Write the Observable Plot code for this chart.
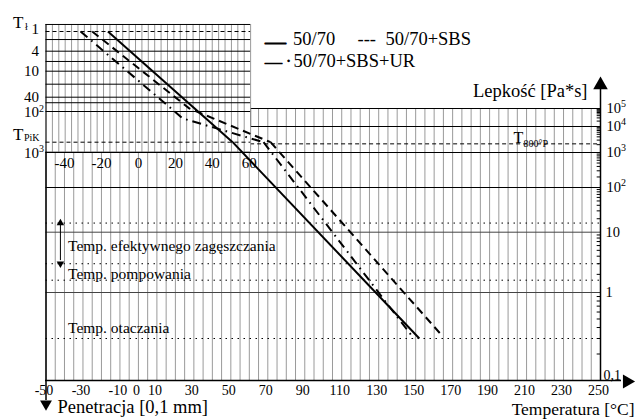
<!DOCTYPE html>
<html><head><meta charset="utf-8">
<script src="https://cdn.jsdelivr.net/npm/d3@7"></script>
<script src="https://cdn.jsdelivr.net/npm/@observablehq/plot@0.6"></script>
<style>
body{margin:0;background:#fff;}
#wrap{position:relative;width:639px;height:419px;overflow:hidden;background:#fff;}
#wrap svg{position:absolute;left:0;top:0;}
</style></head><body><div id="wrap"></div>
<script>
// ---------------- data ----------------
// shared temperature axis (°C)
const tempTicksBottom = [-50,-30,-10,0,10,30,50,70,90,110,130,150,170,190,210,230,250];
const tempTicksTop = [-40,-20,0,20,40,60];
// penetration axis [0,1 mm] (upper-left chart, log, downward)
const penKnots = [1, 4, 10, 40, 100, 800, 1000];
const penLabelValues = [4, 10, 40];
const penLabelTexts = ["4", "10", "40"];
const penTopValue = 1;
const penTopText = "1";
const penPowerValues = [100, 1000];
const penPowerExps = ["2", "3"];
const penGridSolid = [0.61, 1.76, 4, 6.4, 10, 20, 40, 57, 100, 1000];
const penT1 = 1;
const penPiK = 800;
// viscosity axis [Pa*s]
const viscKnots = [0.1, 1, 10, 100, 1e3, 1e4, 1e5];
const viscPowerValues = [1e5, 1e4, 1e3, 1e2];
const viscPowerExps = ["5", "4", "3", "2"];
const viscPlainValues = [10, 1];
const viscPlainTexts = ["10", "1"];
const viscMinValue = 0.1;
const viscMinText = "0,1";
const viscGridUpper = [1e5, 1e4];
const viscGridFull = [1e3, 1e2, 10, 1];
const viscT800P = 2150;
const viscDotted = [16, 3, 1.6, 0.3];
const viscCompactRange = [16, 3];
// series
const seriesNames = ["50/70", "50/70+SBS", "50/70+SBS+UR"];
// 50/70 (solid)
const penTemp_5070 = [-16.5, 51];
const penVal_5070 = [1, 800];
const visTemp_5070 = [51, 152];
const visVal_5070 = [2500, 0.3];
// 50/70+SBS (dashed)
const penTemp_SBS = [-25, 27.5, 71.5];
const penVal_SBS = [1, 82, 800];
const visTemp_SBS = [71.5, 164.5];
const visVal_SBS = [2500, 0.32];
// 50/70+SBS+UR (dash-dot)
const penTemp_UR = [-31.3, 24, 67.7];
const penVal_UR = [1, 160, 800];
const visTemp_UR = [67.7, 149];
const visVal_UR = [2500, 0.3];

// ---------------- layout / scales ----------------
const FONT = "'Liberation Serif','Times New Roman',Times,serif";
const lg = Math.log10;
const topChartRightT = 60.7;
const topGridCount = 32;
const arrowT = -42.2;
const xCfg = {domain: [-50, 250], range: [45.5, 600], axis: null};
const vCfg = {type: "linear", domain: viscKnots.map(lg), range: [380, 292, 231.7, 187, 152, 126, 108], axis: null};
const pCfg = {type: "linear", domain: penKnots.map(lg), range: [31, 50.7, 70.7, 96.7, 111, 141.7, 151.7], axis: null};

const GRID = "#9a9a9a";
const topGridT = d3.range(topGridCount + 1).map(k => -50 + k * (topChartRightT + 50) / topGridCount);
const bottomGridT = d3.range(-50, 251, 5);
const bottomGridLeft = bottomGridT.filter(t => t <= topChartRightT);
const bottomGridRight = bottomGridT.filter(t => t > topChartRightT);

const pts = (ts, vs, name) => ts.map((t, i) => ({t, v: vs[i], name}));
const dashOf = {"50/70": null, "50/70+SBS": "8,5", "50/70+SBS+UR": "9,5,1.6,5"};
const penSeries = [pts(penTemp_5070, penVal_5070, seriesNames[0]), pts(penTemp_SBS, penVal_SBS, seriesNames[1]), pts(penTemp_UR, penVal_UR, seriesNames[2])];
const visSeries = [pts(visTemp_5070, visVal_5070, seriesNames[0]), pts(visTemp_SBS, visVal_SBS, seriesNames[1]), pts(visTemp_UR, visVal_UR, seriesNames[2])];
const curveMarks = (series) => series.map(s => Plot.line(s, {x: "t", y: d => lg(d.v), stroke: "black", strokeWidth: 2, strokeDasharray: dashOf[s[0].name], strokeLinecap: "butt"}));

const at = (str, px, py, o = {}) => Plot.text([str], {frameAnchor: "top-left", dx: px, dy: py, text: d => d, fontSize: 15, textAnchor: "start", lineAnchor: "middle", fill: "black", ...o});

function makePlot(yCfg, marks) {
  return Plot.plot({width: 639, height: 419, margin: 0, x: xCfg, y: yCfg,
    style: {background: "transparent", fontFamily: FONT, overflow: "visible"}, marks});
}

// ---------- layer 1: viscosity grid, axes, labels ----------
const layer1 = makePlot(vCfg, [
  Plot.ruleX(bottomGridLeft, {x: d => d, y1: () => lg(0.1), y2: () => lg(1e3), stroke: GRID, strokeWidth: 1}),
  Plot.ruleX(bottomGridRight, {x: d => d, y1: () => lg(0.1), y2: () => lg(1e5), stroke: GRID, strokeWidth: 1}),
  Plot.ruleY(viscGridUpper, {y: d => lg(d), x1: () => topChartRightT, x2: () => 250, stroke: "black", strokeWidth: 1}),
  Plot.ruleX([topChartRightT], {y1: () => lg(1e4), y2: () => lg(1e5), stroke: "black", strokeWidth: 1}),
  Plot.ruleY(viscGridFull, {y: d => lg(d), x1: () => -50, x2: () => 250, stroke: d => (d === 10 || d === 1) ? "#444" : "black", strokeWidth: 1}),
  Plot.ruleY([viscT800P], {y: d => lg(d), x1: () => topChartRightT, x2: () => 250, stroke: "black", strokeWidth: 1, strokeDasharray: "4,3"}),
  Plot.ruleY(viscDotted, {y: d => lg(d), x1: () => -50, x2: () => 250, stroke: "black", strokeWidth: 1, strokeDasharray: "1.5,4.5"}),
  // minor ticks on viscosity axis
  Plot.ruleY(d3.range(-1, 5).flatMap(n => d3.range(2, 10).map(k => lg(k) + n)), {y: d => d, x1: () => 248.2, x2: () => 250, stroke: "black", strokeWidth: 1}),
  // axes lines
  Plot.ruleX([-50], {insetTop: 24, insetBottom: 19, stroke: "black", strokeWidth: 1.5}),
  Plot.ruleX([250], {insetTop: 88, insetBottom: 39, stroke: "black", strokeWidth: 1.5}),
  Plot.ruleY([lg(0.1)], {insetLeft: 45, insetRight: 18, stroke: "black", strokeWidth: 1.5}),
  Plot.dot([0], {frameAnchor: "top-left", dx: 600, dy: 84.5, symbol: "triangle", r: 5.4, fill: "black", stroke: "none"}),
  Plot.dot([0], {frameAnchor: "top-left", dx: 626.5, dy: 381, symbol: "triangle", r: 5.2, rotate: 90, fill: "black", stroke: "none"}),
  Plot.dot([0], {frameAnchor: "top-left", dx: 45.5, dy: 403.5, symbol: "triangle", r: 4.4, rotate: 180, fill: "black", stroke: "none"}),
  // viscosity tick labels
  Plot.text(viscPowerValues, {x: () => 250, y: d => lg(d), text: () => "10", dx: 6, textAnchor: "start", fontSize: 14.5}),
  Plot.text(viscPowerValues, {x: () => 250, y: d => lg(d), text: (d, i) => viscPowerExps[i], dx: 20.5, dy: -5, textAnchor: "start", fontSize: 10}),
  Plot.text(viscPlainValues, {x: () => 250, y: d => lg(d), text: (d, i) => viscPlainTexts[i], dx: 5, textAnchor: "start", fontSize: 14.5}),
  Plot.text([viscMinValue], {x: () => 250, y: d => lg(d), text: () => viscMinText, dx: 3, dy: -5, textAnchor: "start", fontSize: 14}),
  // temperature tick labels (bottom)
  Plot.text(tempTicksBottom, {x: d => d, y: () => lg(0.1), text: d => String(d), dy: 10.5, dx: -2, textAnchor: "middle", fontSize: 14}),
  // T800P label
  at("T", 513, 137, {fontSize: 16}),
  at("800°P", 523, 143.5, {fontSize: 10}),
  // annotations: double arrow for compaction range
  Plot.link([viscCompactRange], {x1: () => arrowT, x2: () => arrowT, y1: d => lg(d[0]) - 0.04, y2: d => lg(d[1]) + 0.06, stroke: "black", strokeWidth: 1}),
  Plot.dot(viscCompactRange, {x: () => arrowT, y: d => lg(d), symbol: "triangle", r: 2.8, rotate: (d, i) => i === 0 ? 0 : 180, fill: "black", stroke: "none"}),
  at("Temp. efektywnego zagęszczania", 67.5, 246, {fontSize: 15.5}),
  at("Temp. pompowania", 67.5, 273.5, {fontSize: 15.5}),
  at("Temp. otaczania", 67.5, 328, {fontSize: 15.5}),
  // titles
  at("Lepkość [Pa*s]", 587, 91, {fontSize: 18.5, textAnchor: "end"}),
  at("Temperatura [°C]", 634, 408.5, {fontSize: 17.5, textAnchor: "end"}),
  at("Penetracja [0,1 mm]", 57, 407, {fontSize: 18.5}),
  // legend
  at("—", 264.5, 41.5, {fontSize: 21, stroke: "black", strokeWidth: 0.9}),
  at("50/70", 292.5, 38.5, {fontSize: 18.5}),
  at("---", 357, 38.5, {fontSize: 18.5}),
  at("50/70+SBS", 385, 38.5, {fontSize: 18.5}),
  at("—", 264.5, 61, {fontSize: 17, stroke: "black", strokeWidth: 0.9}),
  at("·", 285, 61, {fontSize: 18.5, stroke: "black", strokeWidth: 0.4}),
  at("50/70+SBS+UR", 293, 60.5, {fontSize: 18.5})
]);

// ---------- layer 2: penetration chart ----------
const layer2 = makePlot(pCfg, [
  Plot.ruleX(topGridT, {x: d => d, y1: () => lg(0.61), y2: () => lg(1000), stroke: GRID, strokeWidth: 1}),
  Plot.ruleY(penGridSolid, {y: d => lg(d), x1: () => -50, x2: () => topChartRightT, stroke: "black", strokeWidth: 1}),
  Plot.ruleY([penT1, penPiK], {y: d => lg(d), x1: () => -50, x2: () => topChartRightT, stroke: "black", strokeWidth: 1, strokeDasharray: "4,3"}),
  Plot.text(penLabelValues, {x: () => -50, y: d => lg(d), text: (d, i) => penLabelTexts[i], dx: -7, textAnchor: "end", fontSize: 15}),
  Plot.text([penTopValue], {x: () => -50, y: d => lg(d), text: () => penTopText, dx: -7, dy: -2.5, textAnchor: "end", fontSize: 15}),
  Plot.text(penPowerValues, {x: () => -50, y: d => lg(d), text: () => "10", dx: -7, dy: 0.5, textAnchor: "end", fontSize: 15}),
  Plot.text(penPowerValues, {x: () => -50, y: d => lg(d), text: (d, i) => penPowerExps[i], dx: -7, dy: -3, textAnchor: "start", fontSize: 10}),
  Plot.text(tempTicksTop, {x: d => d, y: () => lg(1000), text: d => String(d), dy: 10.5, textAnchor: "middle", fontSize: 15}),
  at("T", 12.5, 22, {fontSize: 17}),
  at("ł", 24.5, 26, {fontSize: 10}),
  at("T", 12.5, 134, {fontSize: 17}),
  at("PiK", 23.5, 137.5, {fontSize: 10}),
  ...curveMarks(penSeries)
]);

// ---------- layer 3: viscosity curves ----------
const layer3 = makePlot(vCfg, [...curveMarks(visSeries)]);

const wrap = document.getElementById("wrap");
wrap.append(layer1, layer2, layer3);
</script>
</body></html>
